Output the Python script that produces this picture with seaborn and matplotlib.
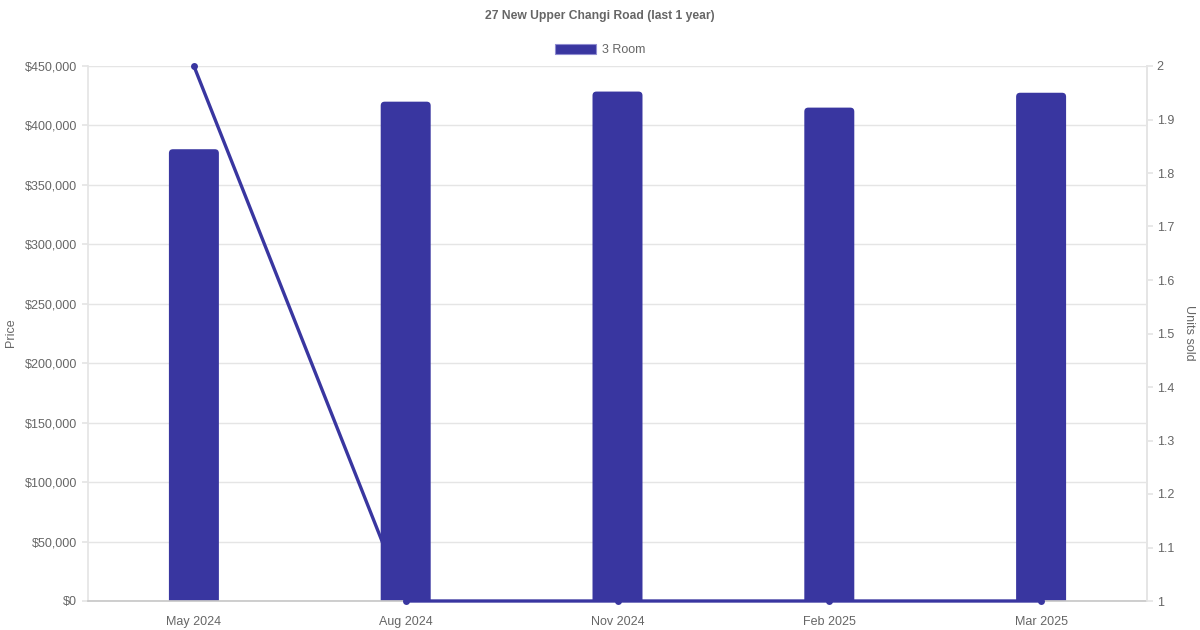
import numpy as np
import pandas as pd
import matplotlib
matplotlib.use("Agg")
import matplotlib.pyplot as plt
import seaborn as sns
from matplotlib.patches import FancyBboxPatch
from matplotlib.ticker import FuncFormatter, MultipleLocator

months = ["May 2024", "Aug 2024", "Nov 2024", "Feb 2025", "Mar 2025"]
prices = [380000, 420000, 428500, 415000, 427500]
units_sold = [2, 1, 1, 1, 1]
series_name = "3 Room"

bar_color = "#3936A0"
text_color = "#666666"
grid_color = "#e5e5e5"
fs = 9

sns.set_theme(style="white")
plt.rcParams['font.family'] = ['Liberation Sans', 'DejaVu Sans']

df = pd.DataFrame({"Month": months, "Price": prices, "Units": units_sold})

fig, ax = plt.subplots(figsize=(12, 6.3), dpi=100)
fig.subplots_adjust(left=88 / 1200, right=1147 / 1200, top=1 - 66 / 630, bottom=1 - 601 / 630)

sns.barplot(data=df, x="Month", y="Price", color=bar_color, width=0.236, ax=ax, saturation=1)
ax.set_xlim(-0.5, len(months) - 0.5)
ax.set_ylim(0, 450000)

# rounded top corners: swap rectangles for rounded boxes that start below zero
x_px = 1059 / len(months)
aspect = (450000 / 535) * x_px
r = 4 / x_px
for p in list(ax.patches):
    x0, w, h = p.get_x(), p.get_width(), p.get_height()
    rb = FancyBboxPatch((x0, -h * 0.05), w, h * 1.05,
                        boxstyle=f"round,pad=0,rounding_size={r}",
                        mutation_aspect=aspect, facecolor=bar_color,
                        edgecolor="none", zorder=2)
    p.remove()
    ax.add_patch(rb)

ax.yaxis.set_major_locator(MultipleLocator(50000))
ax.yaxis.set_major_formatter(FuncFormatter(lambda v, _: f"${v:,.0f}"))
ax.grid(axis="y", color=grid_color, linewidth=1)
ax.set_axisbelow(True)
ax.set_xlabel("")
ax.set_ylabel("")
ax.tick_params(axis="y", colors=grid_color, labelcolor=text_color, labelsize=fs,
               length=4, left=True, pad=4)
ax.tick_params(axis="x", labelcolor=text_color, labelsize=fs, length=0, pad=11)
ax.spines["top"].set_visible(False)
ax.spines["left"].set_color(grid_color)
ax.spines["right"].set_color(grid_color)
ax.spines["bottom"].set_color("#c8c8c8")

ax2 = ax.twinx()
sns.lineplot(x=np.arange(len(months)), y=units_sold, ax=ax2, color=bar_color,
             linewidth=2.4, marker="o", markersize=5, markeredgewidth=0,
             clip_on=False, zorder=5)
ax2.set_ylim(1, 2)
ax2.yaxis.set_major_locator(MultipleLocator(0.1))
ax2.yaxis.set_major_formatter(FuncFormatter(lambda v, _: f"{v:.1f}".rstrip("0").rstrip(".")))
ax2.tick_params(axis="y", colors=grid_color, labelcolor=text_color, labelsize=fs,
                length=4, right=True, pad=3)
for side in ["top", "left", "bottom"]:
    ax2.spines[side].set_visible(False)
ax2.spines["right"].set_color(grid_color)
ax.set_zorder(1)
ax2.set_zorder(2)
ax2.patch.set_visible(False)

fig.text(11 / 1200, 1 - 333 / 630, "Price", rotation=90, ha="center", va="center",
         fontsize=fs, color=text_color)
fig.text(1189 / 1200, 1 - 333 / 630, "Units sold", rotation=270, ha="center", va="center",
         fontsize=fs, color=text_color)

handle = plt.Rectangle((0, 0), 1, 1, facecolor=bar_color, edgecolor="#8f8cd0", linewidth=0.8)
fig.legend([handle], [series_name], loc="center", bbox_to_anchor=(0.5, 1 - 50 / 630),
           frameon=False, fontsize=fs, labelcolor=text_color, handlelength=3.3,
           handleheight=0.9, handletextpad=0.5)

fig.text(0.5, 1 - 16 / 630, "27 New Upper Changi Road (last 1 year)", ha="center", va="center",
         fontsize=8.7, fontweight="bold", color=text_color)

fig.savefig("out.png", dpi=100)
